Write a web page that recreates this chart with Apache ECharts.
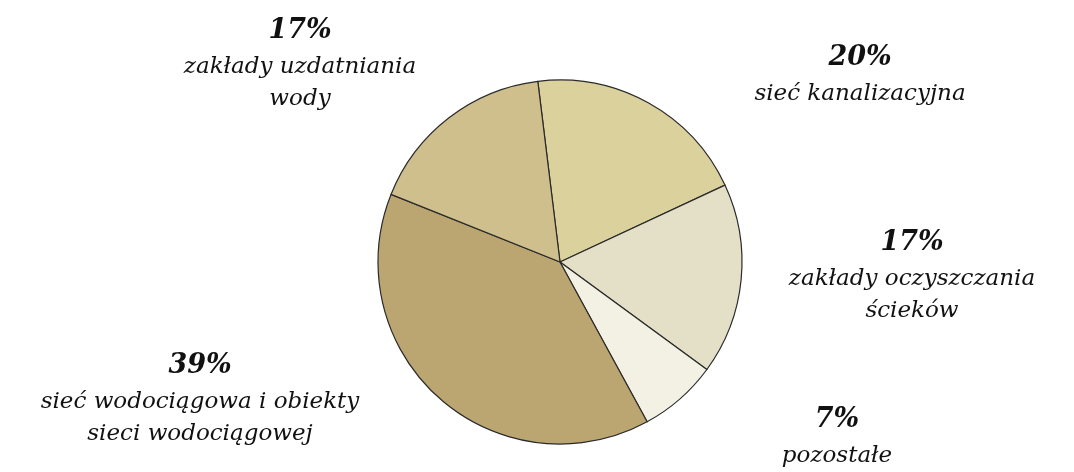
<!DOCTYPE html>
<html><head><meta charset="utf-8">
<script src="https://cdn.jsdelivr.net/npm/echarts@6/dist/echarts.min.js"></script>
<style>html,body{margin:0;padding:0;background:#fff}#c{width:1074px;height:472px}</style>
</head><body><div id="c"></div>
<script>
const categories = ['sieć kanalizacyjna', 'zakłady oczyszczania\nścieków', 'pozostałe', 'sieć wodociągowa i obiekty\nsieci wodociągowej', 'zakłady uzdatniania\nwody'];
const values = [20, 17, 7, 39, 17];
const colors = ['#DBD19C', '#E4E0C7', '#F3F1E3', '#BBA672', '#CFBF8D'];
// label block centres (layout only)
const labelAnchors = [[860, 74], [912, 275], [837, 436], [200, 398], [300, 63]];

const chart = echarts.init(document.getElementById('c'), null, {renderer: 'canvas'});
chart.setOption({
  animation: false,
  series: [{
    type: 'pie',
    center: [560, 262],
    radius: 182,
    startAngle: 97,
    clockwise: true,
    avoidLabelOverlap: false,
    data: categories.map((n, i) => ({name: n, value: values[i], itemStyle: {color: colors[i]}})),
    itemStyle: {borderColor: '#2a2a2a', borderWidth: 1.2},
    labelLine: {show: false},
    label: {
      show: true,
      position: 'outside',
      align: 'center',
      formatter: p => '{p|' + p.value + '%}\n' + p.name.split('\n').map(s => '{t|' + s + '}').join('\n'),
      rich: {
        p: {fontFamily: 'DejaVu Serif', fontStyle: 'italic', fontWeight: 'bold', fontSize: 27, lineHeight: 40, color: '#111', align: 'center'},
        t: {fontFamily: 'DejaVu Serif', fontStyle: 'italic', fontSize: 23, lineHeight: 32, color: '#111', align: 'center'}
      }
    },
    labelLayout: params => ({
      x: labelAnchors[params.dataIndex][0],
      y: labelAnchors[params.dataIndex][1],
      align: 'center',
      verticalAlign: 'middle'
    })
  }]
});
</script></body></html>
